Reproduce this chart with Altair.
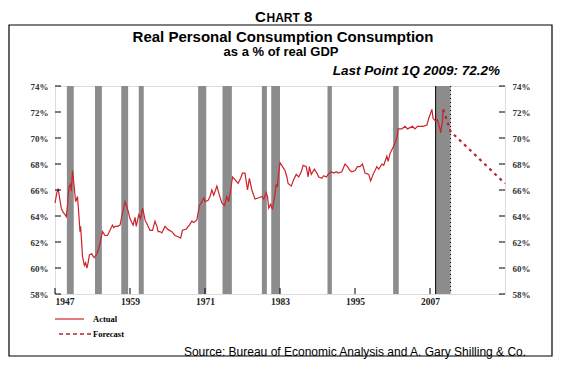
import altair as alt
import pandas as pd

# ---------------- data ----------------
actual_year = [
    1947.0, 1947.3, 1947.5, 1947.8, 1948.0, 1948.3, 1948.6, 1948.8, 1949.0, 1949.2,
    1949.5, 1949.6, 1949.8, 1950.0, 1950.3, 1950.6, 1950.8, 1951.0, 1951.1, 1951.4,
    1951.7, 1951.9, 1952.1, 1952.3, 1952.5, 1952.9, 1953.1, 1953.3, 1953.7, 1954.0,
    1954.2, 1954.6, 1955.0, 1955.4, 1955.8, 1956.2, 1956.4, 1956.6, 1957.0, 1957.4,
    1957.8, 1958.2, 1958.5, 1958.8, 1959.0, 1959.3, 1959.5, 1959.8, 1960.0, 1960.4,
    1960.7, 1961.0, 1961.2, 1961.4, 1961.7, 1961.9, 1962.2, 1962.6, 1963.0, 1963.3,
    1963.5, 1963.8, 1964.1, 1964.6, 1965.1, 1965.7, 1966.2, 1966.7, 1967.1, 1967.4,
    1968.0, 1968.5, 1968.9, 1969.2, 1969.7, 1970.1, 1970.5, 1970.8, 1971.0, 1971.5,
    1971.8, 1972.1, 1972.4, 1972.9, 1973.3, 1973.7, 1974.1, 1974.5, 1974.8, 1975.1,
    1975.4, 1975.8, 1976.3, 1976.7, 1977.0, 1977.4, 1977.8, 1978.1, 1978.5, 1979.0,
    1979.6, 1980.1, 1980.4, 1980.8, 1981.0, 1981.2, 1981.5, 1981.8, 1982.2, 1982.4,
    1982.6, 1982.7, 1983.0, 1983.4, 1983.8, 1984.1, 1984.3, 1984.8, 1985.2, 1985.6,
    1986.0, 1986.4, 1986.7, 1987.2, 1987.5, 1987.7, 1988.0, 1988.5, 1988.9, 1989.2,
    1989.7, 1990.0, 1990.4, 1990.7, 1991.2, 1991.6, 1992.0, 1992.3, 1992.9, 1993.4,
    1993.8, 1994.2, 1994.5, 1995.0, 1995.4, 1995.8, 1996.2, 1996.6, 1997.2, 1997.5,
    1997.9, 1998.5, 1998.8, 1999.3, 1999.6, 2000.1, 2000.3, 2000.6, 2001.0, 2001.4,
    2001.7, 2001.9, 2002.5, 2003.0, 2003.4, 2003.8, 2004.2, 2004.6, 2005.0, 2005.4,
    2005.9, 2006.5, 2006.8, 2007.3, 2007.5, 2007.9, 2008.2, 2008.6, 2008.7, 2009.0,
    2009.1,
]
actual_value = [
    65.0, 65.8, 66.1, 65.2, 64.6, 64.3, 64.1, 63.95, 64.8, 66.1,
    66.5, 65.9, 67.5, 66.6, 65.1, 65.5, 64.2, 62.8, 63.2, 60.9,
    60.2, 60.4, 60.0, 60.4, 61.0, 61.1, 60.9, 60.8, 61.1, 61.5,
    61.9, 62.8, 62.5, 62.5, 62.9, 63.3, 63.1, 63.2, 63.2, 63.3,
    64.2, 65.1, 64.7, 64.2, 63.8, 63.5, 63.3, 63.9, 63.2, 64.1,
    63.8, 64.6, 64.2, 63.7, 63.4, 63.2, 62.9, 62.9, 63.6, 63.2,
    62.8, 62.8, 62.7, 63.2, 62.95, 62.8, 62.5, 62.4, 62.3, 62.9,
    63.0, 63.3, 63.6, 63.5, 63.7, 64.8, 65.1, 65.4, 65.1, 65.2,
    65.5, 66.0, 65.6, 66.3, 65.6, 65.0, 64.8, 65.5, 65.1, 66.0,
    67.0, 66.8, 66.5, 66.9, 67.3, 67.3, 66.0, 66.9, 66.0, 65.3,
    65.4, 65.5, 65.3, 65.8, 65.5, 64.6, 64.9, 64.5, 65.7, 66.4,
    66.3, 67.0, 68.1, 67.8, 67.5, 67.0, 66.5, 66.3, 66.8, 67.2,
    67.0, 67.4, 67.9, 67.8, 67.0, 67.8, 67.2, 67.6, 67.3, 67.0,
    66.9, 67.1, 67.0, 67.2, 67.4, 67.3, 67.4, 67.3, 67.4, 68.0,
    67.8, 67.5, 67.4, 67.5, 67.8, 67.8, 68.0, 67.3, 67.2, 66.7,
    67.2, 67.8, 67.6, 68.0, 67.9, 68.6, 68.2, 68.8, 69.2, 69.6,
    70.0, 70.7, 70.7, 70.9, 70.7, 70.8, 70.9, 70.7, 70.9, 70.9,
    70.9, 71.0, 71.5, 72.2, 71.5, 71.3, 71.4, 70.7, 70.4, 71.3,
    72.2,
]
forecast_year = [2009.1, 2010.3, 2019.0]
forecast_value = [72.2, 70.5, 66.5]

recession_start = [1948.9, 1953.4, 1957.6, 1960.4, 1969.9, 1973.8, 1980.1, 1981.6, 1990.6, 2001.1, 2007.9]
recession_end = [1950.0, 1954.5, 1958.7, 1961.2, 1971.2, 1975.3, 1980.9, 1983.0, 1991.3, 2002.0, 2010.3]

x_ticks = [1947, 1959, 1971, 1983, 1995, 2007]
y_ticks = [58, 60, 62, 64, 66, 68, 70, 72, 74]

chart_label = ["C", "HART", "8"]
title_lines = ["Real Personal Consumption Consumption", "as a % of real GDP"]
last_point_note = ["Last Point 1Q 2009: 72.2%"]
legend_labels = ["Actual", "Forecast"]
source_note = ["Source:  Bureau of Economic Analysis and A. Gary Shilling & Co."]

# ---------------- frames ----------------
actual_df = pd.DataFrame({"year": actual_year, "value": actual_value})
fc_df = pd.DataFrame({"year": forecast_year, "value": forecast_value})
rec_df = pd.DataFrame({"start": recession_start, "end": recession_end})
xt_df = pd.DataFrame({"year": x_ticks})
yt_df = pd.DataFrame({"value": y_ticks})

W, H = 450, 208
xs = alt.Scale(domain=[1947, 2019], nice=False, zero=False)
ys = alt.Scale(domain=[58, 74], nice=False, zero=False)

RED = "#cc2229"
FC_RED = "#b3262c"
LBL_FONT = "Liberation Serif"

X_AXIS = alt.Axis(values=x_ticks, format="d", ticks=False, domain=False, grid=False,
                  labelFont=LBL_FONT, labelFontWeight="bold", labelFontSize=9.5,
                  labelColor="#222", labelPadding=2, title=None)


def X(field):
    return alt.X(field, scale=xs, axis=X_AXIS, title=None)


rec = alt.Chart(rec_df).mark_rect(color="#8c8c8c").encode(
    x=X("start:Q"),
    x2="end:Q",
    y=alt.value(0),
    y2=alt.value(H),
)

line = alt.Chart(actual_df).mark_line(color=RED, strokeWidth=1.2).encode(
    x=X("year:Q"),
    y=alt.Y("value:Q", scale=ys, title=None,
            axis=alt.Axis(values=y_ticks, labelExpr="datum.value + '%'", ticks=False,
                          domain=False, grid=False, labelFont=LBL_FONT, labelFontWeight="bold",
                          labelFontSize=9, labelColor="#333", labelPadding=7)),
)

fc = alt.Chart(fc_df).mark_line(color=FC_RED, strokeWidth=2.2, strokeDash=[3, 4]).encode(
    x=X("year:Q"),
    y=alt.Y("value:Q", scale=ys, axis=None),
)

solid_edge = alt.Chart(rec_df.tail(1)).mark_rule(color="black", strokeWidth=1).encode(
    x=X("start:Q"), y=alt.value(0), y2=alt.value(H))
dotted_edge = alt.Chart(rec_df.tail(1)).mark_rule(color="black", strokeWidth=1, strokeDash=[1, 3]).encode(
    x=X("end:Q"), y=alt.value(0), y2=alt.value(H))

xt = alt.Chart(xt_df).mark_rule(color="black").encode(
    x=X("year:Q"), y=alt.value(H - 6), y2=alt.value(H))
ytl = alt.Chart(yt_df).mark_rule(color="black").encode(
    y=alt.Y("value:Q", scale=ys, axis=None), x=alt.value(0), x2=alt.value(6))
ytr = alt.Chart(yt_df).mark_rule(color="black").encode(
    y=alt.Y("value:Q", scale=ys, title=None,
            axis=alt.Axis(orient="right", values=y_ticks, labelExpr="datum.value + '%'",
                          ticks=False, domain=False, grid=False, labelFont=LBL_FONT,
                          labelFontWeight="bold", labelFontSize=9, labelColor="#333",
                          labelPadding=7)),
    x=alt.value(W - 6), x2=alt.value(W))


def txt(s, x, y, size, weight="bold", style="normal", align="center", font="Liberation Sans",
        color="black", baseline="middle"):
    return alt.Chart(pd.DataFrame({"t": [s]})).mark_text(
        align=align, baseline=baseline, fontSize=size, fontWeight=weight, fontStyle=style,
        font=font, color=color).encode(text="t:N", x=alt.value(x), y=alt.value(y))

texts = [
    txt(chart_label[0], 200, -64, 15, align="left", baseline="alphabetic"),
    txt(chart_label[1], 211.5, -64, 12, align="left", baseline="alphabetic"),
    txt(chart_label[2], 249, -64, 15, align="left", baseline="alphabetic"),
    txt(title_lines[0], 228, -49, 15),
    txt(title_lines[1], 226, -34, 13),
    txt(last_point_note[0], 445, -15, 13.5, style="italic", align="right"),
    txt(legend_labels[0], 38, 233, 8.5, font=LBL_FONT, align="left"),
    txt(legend_labels[1], 38, 248, 8.5, font=LBL_FONT, align="left"),
    txt(source_note[0], 300, 266, 12, weight="normal"),
]

leg_lines = [
    alt.Chart(pd.DataFrame({"t": [legend_labels[0]]})).mark_rule(color=RED, strokeWidth=1.2).encode(
        x=alt.value(0), x2=alt.value(29), y=alt.value(233)),
    alt.Chart(pd.DataFrame({"t": [legend_labels[1]]})).mark_rule(color=FC_RED, strokeWidth=1.6, strokeDash=[4, 3]).encode(
        x=alt.value(4), x2=alt.value(36), y=alt.value(248)),
]

frame = alt.Chart(pd.DataFrame({"t": [0]})).mark_rect(fillOpacity=0, stroke="black", strokeWidth=1.2).encode(
    x=alt.value(-46), x2=alt.value(497), y=alt.value(-61), y2=alt.value(270))

chart = alt.layer(
    rec, solid_edge, dotted_edge, line, fc, xt, ytl, ytr, *texts, *leg_lines, frame
).resolve_scale(y="independent").properties(
    width=W, height=H,
    autosize=alt.AutoSizeParams(type="none"),
    padding={"left": 47, "top": 78, "right": 48, "bottom": 65},
).configure_view(stroke="black", strokeWidth=1.2).configure(background="white")

chart.save("out.html", embed_options={"renderer": "svg", "actions": False})
